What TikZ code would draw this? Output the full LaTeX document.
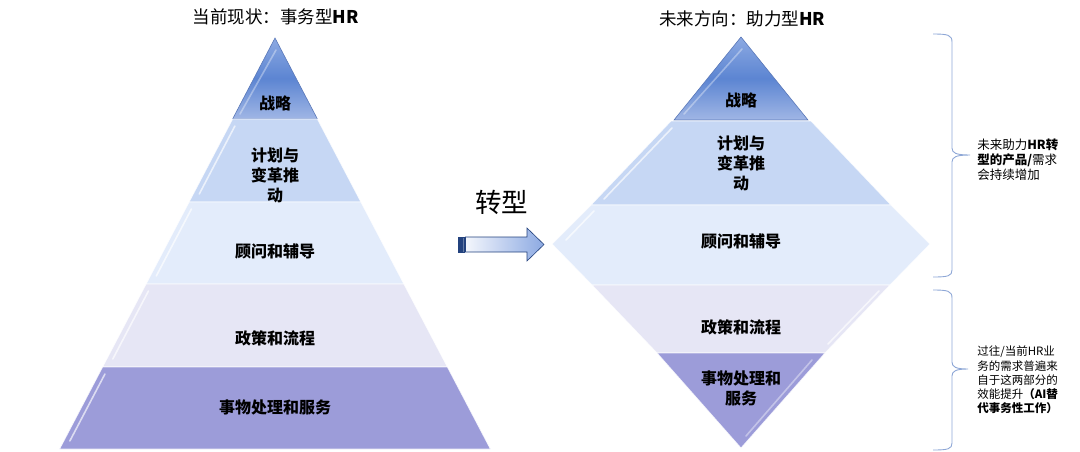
\documentclass[tikz,border=0pt]{standalone}
\usepackage{fontspec}
\setmainfont{Noto Sans CJK SC}
\usetikzlibrary{positioning, calc}
\definecolor{stratTop}{HTML}{8CA9E2}
\definecolor{stratMid}{HTML}{5C85D2}
\definecolor{stratBot}{HTML}{A0B6E5}
\definecolor{stratEdge}{HTML}{5A78B8}
\definecolor{planBlue}{HTML}{C6D7F4}
\definecolor{adviceBlue}{HTML}{E3ECFB}
\definecolor{policyLav}{HTML}{E6E6F5}
\definecolor{serviceLav}{HTML}{9C9CD9}
\definecolor{braceBlue}{HTML}{8EA7D6}
\definecolor{arrowLine}{HTML}{23427E}

\begin{document}
\begin{tikzpicture}[
    x=1pt, y=-1pt,
    semithick,
    ]
    \tikzstyle{band}=[draw=white, line width=0.8pt, draw opacity=0.8]
    \tikzstyle{strat}=[draw=stratEdge, line width=0.6pt, top color=stratTop, bottom color=stratBot, middle color=stratMid]
    \tikzstyle{gloss}=[white, line width=1.6pt, opacity=0.65, line cap=round]
    \tikzstyle{bandlabel}=[font=\fontsize{16}{20}\selectfont\bfseries, align=center, inner sep=0pt]
    \tikzstyle{title}=[font=\fontsize{17.5}{21}\selectfont, inner sep=0pt]
    \tikzstyle{note}=[anchor=west, align=left, inner sep=0pt]
    \tikzstyle{bracepath}=[draw=braceBlue, line width=0.9pt]
    \useasboundingbox (0,0) rectangle (1080,451);
    % current pyramid
    \draw[strat] (275,38) -- (317.4,119) -- (232.6,119) -- cycle;
    \draw[band, fill=planBlue] (232.6,119) -- (317.4,119) -- (360.9,202) -- (189.1,202) -- cycle;
    \draw[band, fill=adviceBlue] (189.1,202) -- (360.9,202) -- (403.9,284) -- (146.1,284) -- cycle;
    \draw[band, fill=policyLav] (146.1,284) -- (403.9,284) -- (447.4,367) -- (102.6,367) -- cycle;
    \draw[band, fill=serviceLav] (102.6,367) -- (447.4,367) -- (490.4,449) -- (59.6,449) -- cycle;
    \foreach \ya/\yb in {123/199, 206/281, 288/364, 371/446}
        \draw[gloss] ({275-0.524*(\ya+3-38)+6},\ya+3) -- ({275-0.524*(\yb-5-38)+6},\yb-5);
    \draw[gloss, opacity=0.35] (276,50) -- (240,114);
    % future diamond
    \draw[strat] (741,37) -- (808,120) -- (674,120) -- cycle;
    \draw[band, fill=planBlue] (671,121) -- (811,121) -- (891,205) -- (591,205) -- cycle;
    \draw[band, fill=adviceBlue] (591,205) -- (891,205) -- (930,244) -- (890,285) -- (592,285) -- (552,244) -- cycle;
    \draw[band, fill=policyLav] (592,285) -- (890,285) -- (825,353) -- (657,353) -- cycle;
    \draw[band, fill=serviceLav] (657,353) -- (825,353) -- (741,448) -- cycle;
    \draw[gloss] (672,128) -- (604,199);
    \draw[gloss] (594,211) -- (566,240);
    \draw[gloss] (879,291) -- (828,344);
    \draw[gloss, opacity=0.4] (812,360) -- (746,436);
    \draw[gloss, opacity=0.35] (742,49) -- (684,114);
    % labels
    \node[title] (nowTitle) at (275.5,17) {当前现状：事务型\textbf{HR}};
    \node[title] (futureTitle) at (742,19) {未来方向：助力型\textbf{HR}};
    \node[bandlabel] (nowStrat) at (275,103) {战略};
    \node[bandlabel] (nowPlan) at (275,175) {计划与\\变革推\\动};
    \node[bandlabel] (nowAdvice) at (275,251) {顾问和辅导};
    \node[bandlabel] (nowPolicy) at (275,338) {政策和流程};
    \node[bandlabel] (nowService) at (275,407) {事物处理和服务};
    \node[bandlabel] (futStrat) at (741,100) {战略};
    \node[bandlabel] (futPlan) at (741,163) {计划与\\变革推\\动};
    \node[bandlabel] (futAdvice) at (741,241) {顾问和辅导};
    \node[bandlabel] (futPolicy) at (741,327) {政策和流程};
    \node[bandlabel] (futService) at (741,388) {事物处理和\\服务};
    % transition arrow
    \node[font=\fontsize{26.5}{30}\selectfont, inner sep=0pt] (shift) at (501.5,202) {转型};
    \draw[draw=arrowLine, line width=0.6pt, fill=arrowLine] (458,237) rectangle (461,252);
    \draw[draw=arrowLine, line width=0.6pt, fill=arrowLine!70] (462.5,237) rectangle (464,252);
    \draw[draw=arrowLine, line width=0.6pt, left color=white!90!stratTop, right color=stratTop]
        (465.5,237) -- (527,237) -- (527,228) -- (544,244.5) -- (527,261) -- (527,252) -- (465.5,252) -- cycle;
    % braces
    \coordinate (braceUp) at (970,155);
    \coordinate (braceDown) at (968,369);
    \draw[bracepath] (933,34) .. controls (948,34) and (952,35) .. (952,42) -- (952,148)
        .. controls (952,153) and (956,155) .. (braceUp)
        .. controls (956,155) and (952,157) .. (952,162) -- (952,270)
        .. controls (952,276) and (948,277) .. (933,277);
    \draw[bracepath] (933,290) .. controls (948,290) and (952,291) .. (952,298) -- (952,362)
        .. controls (952,367) and (956,369) .. (braceDown)
        .. controls (956,369) and (952,371) .. (952,376) -- (952,443)
        .. controls (952,449) and (948,450) .. (933,450);
    \node[note, font=\fontsize{12.5}{15}\selectfont] (noteUp) at (977,160) {未来助力\textbf{HR转}\\\textbf{型的产品/}需求\\会持续增加};
    \node[note, font=\fontsize{11.5}{14.2}\selectfont] (noteDown) at (977,380) {过往/当前HR业\\务的需求普遍来\\自于这两部分的\\效能提升\textbf{（AI替}\\\textbf{代事务性工作）}};
\end{tikzpicture}
\end{document}
